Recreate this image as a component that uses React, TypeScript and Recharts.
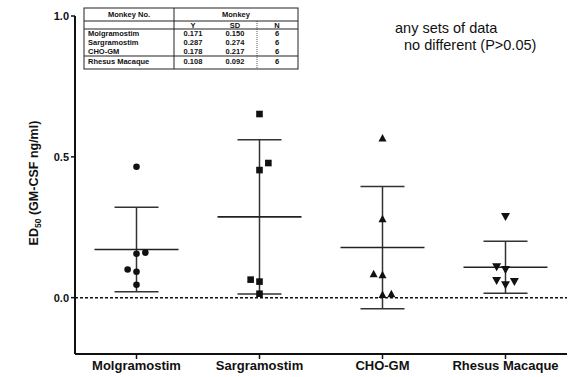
import React from 'react';
import { ScatterChart, Scatter, XAxis, YAxis, ReferenceLine, ErrorBar, Label } from 'recharts';

const categories = ['Molgramostim', 'Sargramostim', 'CHO-GM', 'Rhesus Macaque'];
const molgramostimValues = [0.465, 0.156, 0.16, 0.1, 0.092, 0.046];
const sargramostimValues = [0.652, 0.478, 0.453, 0.064, 0.057, 0.014];
const choGmValues = [0.567, 0.28, 0.085, 0.081, 0.011, 0.014];
const rhesusValues = [0.288, 0.11, 0.1, 0.061, 0.057, 0.046];
// side of the column each overlapping point is nudged to (-1 left, 0 centre, 1 right)
const molgramostimSides = [0, 0, 1, -1, 0, 0];
const sargramostimSides = [0, 1, 0, -1, 0, 0];
const choGmSides = [0, 0, -1, 0, 0, 1];
const rhesusSides = [0, -1, 0, -1, 1, 0];
const meanValues = [0.171, 0.287, 0.178, 0.108];
const sdValues = [0.15, 0.274, 0.217, 0.092];
const nValues = ['6', '6', '6', '6'];
const meanLabels = ['0.171', '0.287', '0.178', '0.108'];
const sdLabels = ['0.150', '0.274', '0.217', '0.092'];
const yTicks = [0, 0.5, 1.0];
const xTicks = [1, 2, 3, 4];

const JITTER = 0.072;
const FONT = '"Liberation Sans", Arial, sans-serif';

const build = (vals: number[], sides: number[], idx: number) =>
  vals.map((v, i) => ({ x: idx + 1 + sides[i] * JITTER, y: v }));

const groups = [
  build(molgramostimValues, molgramostimSides, 0),
  build(sargramostimValues, sargramostimSides, 1),
  build(choGmValues, choGmSides, 2),
  build(rhesusValues, rhesusSides, 3),
];

const meanData = meanValues.map((m, i) => ({ x: i + 1, y: m, sd: sdValues[i] }));

const Circle = (p: any) => <circle cx={p.cx} cy={p.cy} r={3.3} fill="#111" />;
const Square = (p: any) => <rect x={p.cx - 3.3} y={p.cy - 3.3} width={6.6} height={6.6} fill="#111" />;
const Tri = (p: any) => (
  <polygon points={`${p.cx},${p.cy - 4} ${p.cx - 4},${p.cy + 3.5} ${p.cx + 4},${p.cy + 3.5}`} fill="#111" />
);
const InvTri = (p: any) => (
  <polygon points={`${p.cx - 4.5},${p.cy - 3.5} ${p.cx + 4.5},${p.cy - 3.5} ${p.cx},${p.cy + 4.5}`} fill="#111" />
);
const shapes = [Circle, Square, Tri, InvTri];

const MeanLine = (p: any) => (
  <line x1={p.cx - 42} x2={p.cx + 42} y1={p.cy} y2={p.cy} stroke="#222" strokeWidth={1.6} />
);

const YLabel = () => (
  <text
    transform="translate(38,183) rotate(-90)"
    textAnchor="middle"
    fontFamily={FONT}
    fontWeight="bold"
    fontSize={12.5}
    fill="#111"
  >
    ED<tspan fontSize={8.5} dy={3}>50</tspan>
    <tspan dy={-3}> (GM-CSF ng/ml)</tspan>
  </text>
);

const Table = () => {
  const L = 84, R = 298, T = 8, B = 69;
  const c1 = 174, c3 = 257;
  const rowsY = [33.5, 42.5, 51, 61];
  const ts = { fontFamily: FONT, fontSize: 7.5, fill: '#111', fontWeight: 'bold' as const };
  return (
    <svg width={575} height={377} style={{ position: 'absolute', left: 0, top: 0, pointerEvents: 'none' }}>
      <rect x={L} y={T} width={R - L} height={B - T} fill="#fff" stroke="#222" strokeWidth={1} />
      <line x1={c1} x2={c1} y1={T} y2={B} stroke="#222" />
      <line x1={c3} x2={c3} y1={21} y2={B} stroke="#555" strokeDasharray="1 1" />
      <line x1={L} x2={R} y1={21} y2={21} stroke="#222" />
      <line x1={L} x2={R} y1={29} y2={29} stroke="#222" />
      <line x1={L} x2={R} y1={56} y2={56} stroke="#222" />
      <text x={129} y={17} textAnchor="middle" {...ts}>Monkey No.</text>
      <text x={236} y={17} textAnchor="middle" {...ts}>Monkey</text>
      <text x={193} y={27.5} textAnchor="middle" {...ts}>Y</text>
      <text x={235} y={27.5} textAnchor="middle" {...ts}>SD</text>
      <text x={277} y={27.5} textAnchor="middle" {...ts}>N</text>
      {categories.map((c, i) => (
        <g key={c}>
          <text x={88} y={rowsY[i] + 2.7} {...ts}>{c}</text>
          <text x={193} y={rowsY[i] + 2.7} textAnchor="middle" {...ts}>{meanLabels[i]}</text>
          <text x={235} y={rowsY[i] + 2.7} textAnchor="middle" {...ts}>{sdLabels[i]}</text>
          <text x={277} y={rowsY[i] + 2.7} textAnchor="middle" {...ts}>{nValues[i]}</text>
        </g>
      ))}
      <text x={395} y={33} fontFamily={FONT} fontSize={14.5} fill="#111">any sets of data</text>
      <text x={404} y={50} fontFamily={FONT} fontSize={14.5} fill="#111">no different (P&gt;0.05)</text>
    </svg>
  );
};

export default function App() {
  return (
    <div style={{ position: 'absolute', left: 0, top: 0, width: 575, height: 377, background: '#fff' }}>
      <ScatterChart width={575} height={377} margin={{ top: 16, right: 8, left: 0, bottom: 0 }}>
        <XAxis
          type="number"
          dataKey="x"
          domain={[0.5, 4.5]}
          ticks={xTicks}
          interval={0}
          tickFormatter={(v: number) => categories[v - 1]}
          axisLine={{ stroke: '#111', strokeWidth: 2 }}
          tickLine={{ stroke: '#111', strokeWidth: 1.5 }}
          tickSize={5}
          height={23}
          tick={{ fontFamily: FONT, fontSize: 13, fontWeight: 'bold', fill: '#111' }}
        />
        <YAxis
          type="number"
          dataKey="y"
          domain={[-0.2, 1.0]}
          ticks={yTicks}
          interval={0}
          tickFormatter={(v: number) => v.toFixed(1)}
          axisLine={{ stroke: '#111', strokeWidth: 2 }}
          tickLine={{ stroke: '#111', strokeWidth: 1.5 }}
          tickSize={4}
          width={75}
          tick={{ fontFamily: FONT, fontSize: 11, fontWeight: 'bold', fill: '#111' }}
        >
          <Label content={<YLabel />} />
        </YAxis>
        <ReferenceLine y={0} stroke="#111" strokeWidth={1.5} strokeDasharray="3 2" />
        <Scatter data={meanData} shape={<MeanLine />} isAnimationActive={false}>
          <ErrorBar dataKey="sd" direction="y" width={22} stroke="#333" strokeWidth={1.5} isAnimationActive={false} />
        </Scatter>
        {groups.map((g, i) => {
          const S = shapes[i];
          return <Scatter key={categories[i]} data={g} shape={<S />} isAnimationActive={false} />;
        })}
      </ScatterChart>
      <Table />
    </div>
  );
}
